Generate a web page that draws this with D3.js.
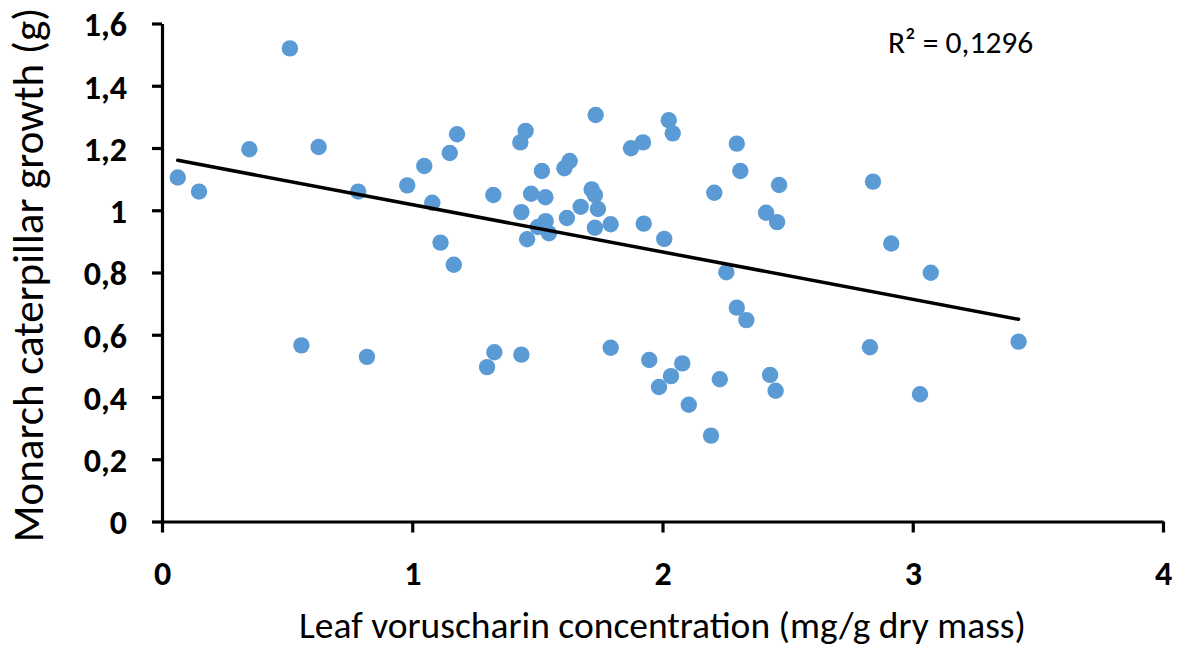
<!DOCTYPE html>
<html>
<head>
<meta charset="utf-8">
<script src="https://cdn.jsdelivr.net/npm/d3@7"></script>
<style>
  body { margin: 0; background: #fff; }
  svg text { font-family: Carlito, Calibri, Lato, sans-serif; fill: #000; }
</style>
</head>
<body>
<script>
    const chart_width = 1189;
    const chart_height = 648;

    // leaf voruscharin (mg/g dry mass) vs caterpillar growth (g)
    const voruscharin = [
      0.063, 0.148, 0.349, 0.511, 0.557, 0.626, 0.784, 0.819, 0.980, 1.048,
      1.080, 1.113, 1.166, 1.150, 1.179, 1.299, 1.328, 1.324, 1.432, 1.453,
      1.436, 1.436, 1.459, 1.475, 1.502, 1.518, 1.532, 1.533, 1.546, 1.608,
      1.629, 1.618, 1.673, 1.717, 1.730, 1.742, 1.730, 1.733, 1.793, 1.793,
      1.874, 1.922, 1.925, 1.947, 1.986, 2.007, 2.025, 2.041, 2.034, 2.079,
      2.105, 2.194, 2.207, 2.229, 2.255, 2.297, 2.311, 2.297, 2.335, 2.414,
      2.458, 2.430, 2.452, 2.466, 2.829, 2.841, 2.914, 3.029, 3.072, 3.423
    ];
    const growth = [
      1.105, 1.060, 1.196, 1.520, 0.566, 1.203, 1.060, 0.529, 1.080, 1.142,
      1.024, 0.896, 0.825, 1.184, 1.244, 0.496, 0.544, 1.049, 1.218, 1.255,
      0.536, 0.994, 0.907, 1.053, 0.946, 1.126, 1.042, 0.965, 0.926, 1.135,
      1.158, 0.975, 1.011, 1.067, 1.049, 1.004, 0.944, 1.306, 0.955, 0.558,
      1.199, 1.218, 0.957, 0.519, 0.432, 0.908, 1.289, 1.247, 0.467, 0.508,
      0.375, 0.276, 1.056, 0.457, 0.801, 1.214, 1.126, 0.687, 0.647, 0.992,
      0.962, 0.471, 0.420, 1.081, 0.560, 1.092, 0.893, 0.409, 0.799, 0.578
    ];

    const xTicks = [0, 1, 2, 3, 4];
    const xTickLabels = ["0", "1", "2", "3", "4"];
    const yTicks = [0, 0.2, 0.4, 0.6, 0.8, 1, 1.2, 1.4, 1.6];
    const yTickLabels = ["0", "0,2", "0,4", "0,6", "0,8", "1", "1,2", "1,4", "1,6"];

    // linear trendline as drawn in the figure
    const trendIntercept = 1.170;
    const trendSlope = -0.152;
    const rSquaredLabel = "R\u00b2 = 0,1296";

    const xTitle = "Leaf voruscharin concentration (mg/g dry mass)";
    const yTitle = "Monarch caterpillar growth (g)";

    const points = voruscharin.map((v, i) => ({x: v, y: growth[i]}));

    const svg = d3.select('body').append('svg')
        .attr('width', chart_width).attr('height', chart_height);

    const x = d3.scaleLinear().domain([0, 4]).range([162, 1163]);
    const y = d3.scaleLinear().domain([0, 1.6]).range([521.5, 23.5]);

    // axes
    const yAxis = svg.append('g')
        .attr('transform', 'translate(' + x(0) + ',0)')
        .call(d3.axisLeft(y).tickValues(yTicks)
            .tickFormat((d, i) => yTickLabels[i])
            .tickSize(10).tickSizeOuter(0).tickPadding(25));
    const xAxis = svg.append('g')
        .attr('transform', 'translate(0,' + y(0) + ')')
        .call(d3.axisBottom(x).tickValues(xTicks)
            .tickFormat((d, i) => xTickLabels[i])
            .tickSize(11).tickSizeOuter(0).tickPadding(29));

    [yAxis, xAxis].forEach(ax => {
      ax.attr('font-family', null).attr('font-size', null);
      ax.selectAll('path, line').attr('stroke', '#000').attr('stroke-width', 3.2);
      ax.selectAll('text')
        .attr('fill', '#000')
        .attr('font-size', 34)
        .attr('font-weight', 'bold');
    });
    xAxis.selectAll('text').attr('dy', '0.68em');
    yAxis.selectAll('text').attr('dy', '0.36em');

    // points
    svg.append('g').selectAll('circle')
        .data(points)
        .enter()
        .append('circle')
          .attr('cx', d => x(d.x))
          .attr('cy', d => y(d.y))
          .attr('r', 8.2)
          .attr('fill', '#5b9bd5');

    // trendline over the data range
    const xExtent = d3.extent(voruscharin);
    svg.append('line')
        .attr('x1', x(xExtent[0])).attr('y1', y(trendIntercept + trendSlope * xExtent[0]))
        .attr('x2', x(xExtent[1])).attr('y2', y(trendIntercept + trendSlope * xExtent[1]))
        .attr('stroke', '#000')
        .attr('stroke-width', 3.5)
        .attr('stroke-linecap', 'round');

    svg.append('text')
        .attr('x', 888).attr('y', 53)
        .attr('font-size', 31.5)
        .text(rSquaredLabel);

    // axis titles
    svg.append('text')
        .attr('x', (x(0) + x(4)) / 2).attr('y', 638)
        .attr('text-anchor', 'middle')
        .attr('font-size', 37.5)
        .text(xTitle);

    svg.append('text')
        .attr('transform', 'translate(43,' + 275 + ') rotate(-90)')
        .attr('text-anchor', 'middle')
        .attr('font-size', 43)
        .text(yTitle);
</script>
</body>
</html>
